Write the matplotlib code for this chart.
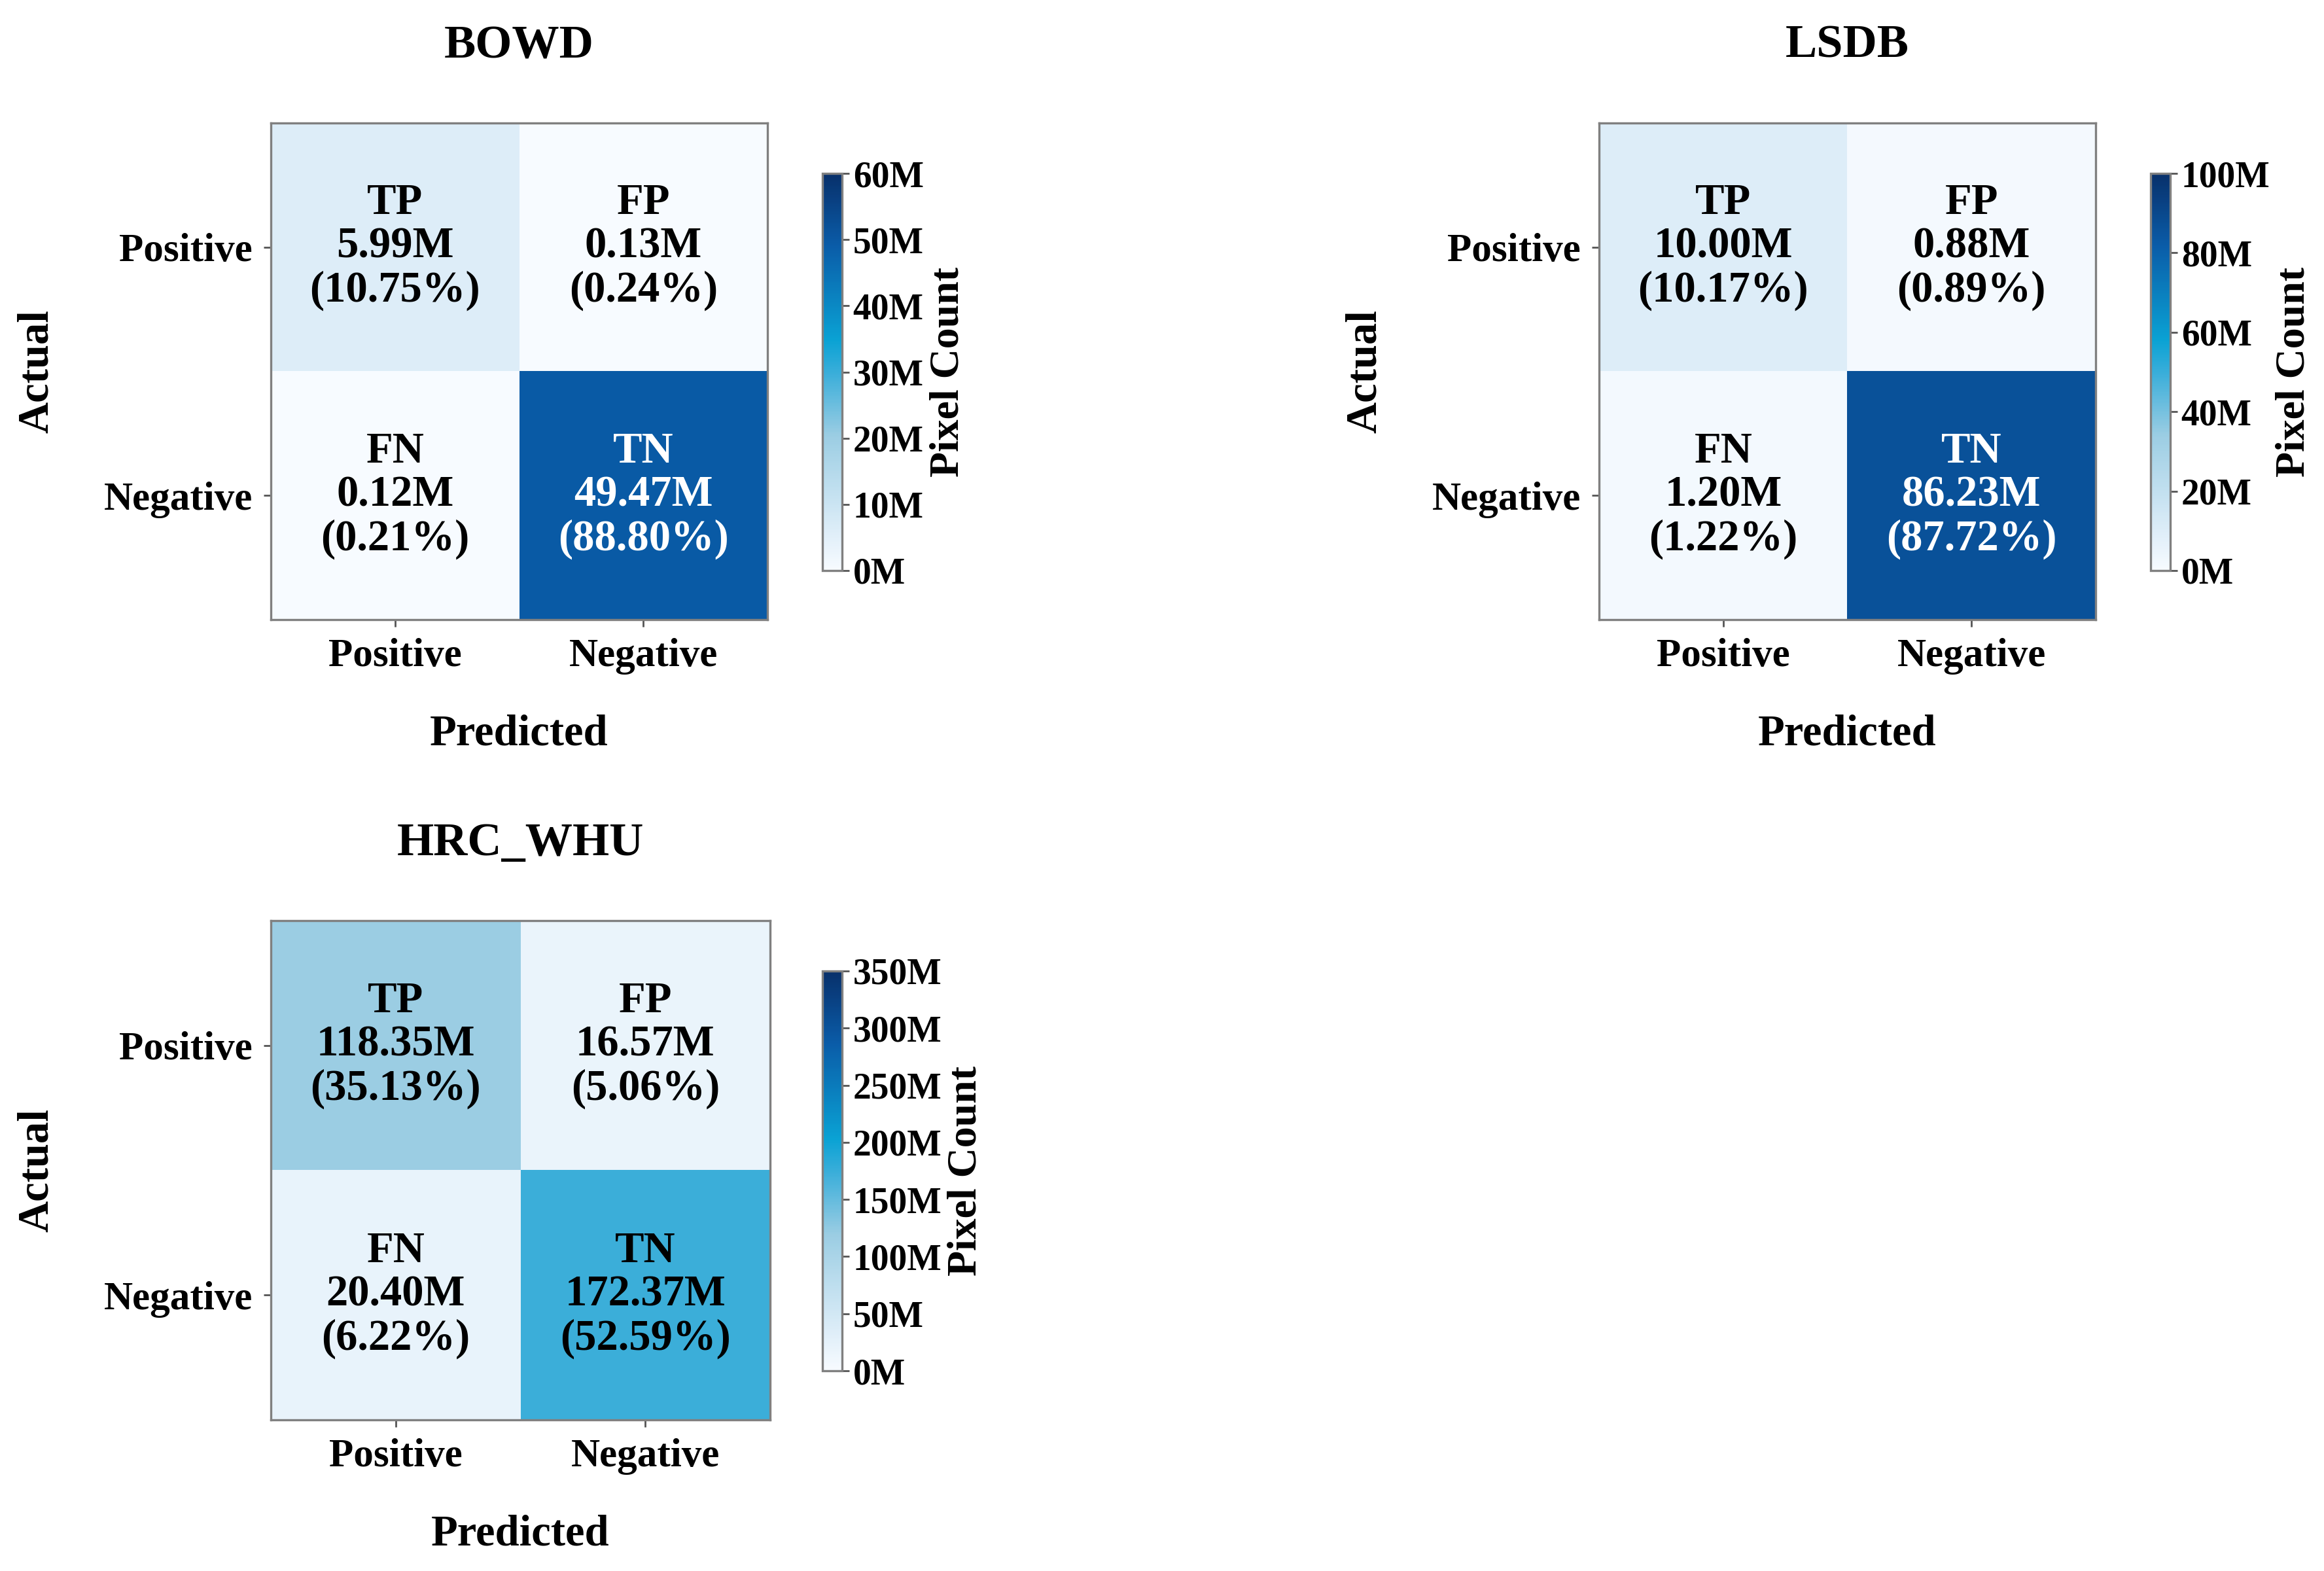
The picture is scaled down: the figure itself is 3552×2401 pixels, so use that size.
import numpy as np
import matplotlib
matplotlib.use("Agg")
from matplotlib import pyplot as plt
from matplotlib.colors import LinearSegmentedColormap

plt.rcParams["font.family"] = ["Liberation Serif", "DejaVu Serif"]
plt.rcParams["font.weight"] = "bold"

# data (millions of pixels, percent of total)
datasets = ["BOWD", "LSDB", "HRC_WHU"]
cell_names = [["TP", "FP"], ["FN", "TN"]]
counts_bowd = [[5.99, 0.13], [0.12, 49.47]]
pct_bowd = [[10.75, 0.24], [0.21, 88.80]]
counts_lsdb = [[10.00, 0.88], [1.20, 86.23]]
pct_lsdb = [[10.17, 0.89], [1.22, 87.72]]
counts_hrc = [[118.35, 16.57], [20.40, 172.37]]
pct_hrc = [[35.13, 5.06], [6.22, 52.59]]
cbar_max = [60, 100, 350]
cbar_step = [10, 20, 50]
tick_labels = ["Positive", "Negative"]

cmap = LinearSegmentedColormap.from_list("cm", [
    (0.00, "#f7fbff"),
    (0.10, "#ddedf8"),
    (0.34, "#9bcde3"),
    (0.49, "#3eafda"),
    (0.58, "#0aa2d4"),
    (0.82, "#0a5ca8"),
    (1.00, "#08306b"),
])

W, H = 3552, 2401
fig = plt.figure(figsize=(W / 200, H / 200), dpi=200)

# axes boxes in pixels: (left, top, size) and colorbar (left, top, bottom)
boxes = [(414, 188, 759), (2444, 188, 759), (414, 1407, 763)]
cboxes = [(1257, 265, 872), (3287, 265, 872), (1257, 1484, 2095)]
all_counts = [counts_bowd, counts_lsdb, counts_hrc]
all_pct = [pct_bowd, pct_lsdb, pct_hrc]

for k in range(3):
    l, t, s = boxes[k]
    ax = fig.add_axes([l / W, 1 - (t + s) / H, s / W, s / H])
    mat = np.array(all_counts[k]) * 1e6
    vmax = cbar_max[k] * 1e6
    im = ax.imshow(mat, cmap=cmap, vmin=0, vmax=vmax, aspect="auto")
    for i in range(2):
        for j in range(2):
            txt = "%s\n%.2fM\n(%.2f%%)" % (cell_names[i][j], all_counts[k][i][j], all_pct[k][i][j])
            col = "white" if mat[i, j] > 0.6 * vmax else "black"
            ax.text(j, i, txt, ha="center", va="center", fontsize=24,
                    fontweight="bold", color=col, linespacing=1.12)
    ax.set_xticks([0, 1])
    ax.set_yticks([0, 1])
    ax.set_xticklabels(tick_labels, fontsize=22, fontweight="bold")
    ax.set_yticklabels(tick_labels, fontsize=22, fontweight="bold")
    ax.tick_params(length=4, width=1, pad=6, color="#555555")
    for sp in ax.spines.values():
        sp.set_color("#808080")
        sp.set_linewidth(1.2)
    ax.set_title(datasets[k], fontsize=26, fontweight="bold", pad=36)
    ax.set_xlabel("Predicted", fontsize=24, fontweight="bold", labelpad=22)
    ax.set_ylabel("Actual", fontsize=24, fontweight="bold", labelpad=26)

    cl, ct, cb = cboxes[k]
    cax = fig.add_axes([cl / W, 1 - cb / H, 30 / W, (cb - ct) / H])
    cbar = fig.colorbar(im, cax=cax)
    ticks = np.arange(0, cbar_max[k] + 1, cbar_step[k])
    cbar.set_ticks(ticks * 1e6)
    cbar.set_ticklabels(["%dM" % v for v in ticks])
    cbar.ax.tick_params(labelsize=20, length=4, width=1, pad=2, color="#555555")
    for lab in cbar.ax.get_yticklabels():
        lab.set_fontweight("bold")
    cbar.outline.set_edgecolor("#808080")
    cbar.outline.set_linewidth(1.2)
    cbar.set_label("Pixel Count", fontsize=23, fontweight="bold", labelpad=3)

fig.savefig("out.png", dpi=200, facecolor="white")
